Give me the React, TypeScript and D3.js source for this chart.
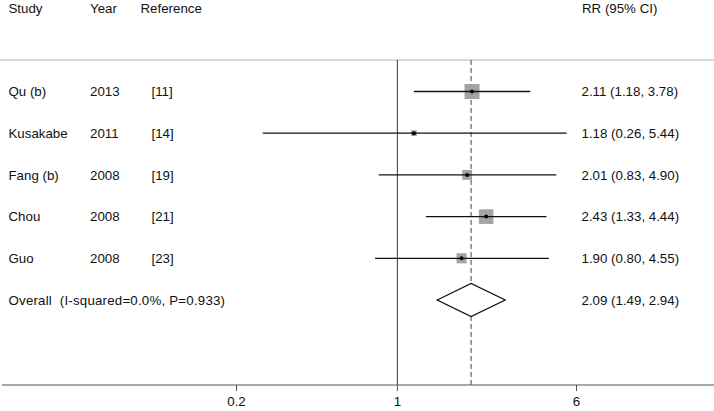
import React from "react";
import { scaleLog, scaleLinear, scaleSqrt, format, max } from "d3";

const width = 714;
const height = 411;

const studies = ["Qu (b)", "Kusakabe", "Fang (b)", "Chou", "Guo"];
const years = ["2013", "2011", "2008", "2008", "2008"];
const refs = ["[11]", "[14]", "[19]", "[21]", "[23]"];
const rr = [2.11, 1.18, 2.01, 2.43, 1.9];
const lower = [1.18, 0.26, 0.83, 1.33, 0.8];
const upper = [3.78, 5.44, 4.9, 4.44, 4.55];
const weights = [33.63, 4.97, 14.56, 31.67, 15.17];

const overallLabel = "Overall  (I-squared=0.0%, P=0.933)";
const overall = { rr: 2.09, lower: 1.49, upper: 2.94 };

const ticks = [0.2, 1, 6];

const font = "'Liberation Sans', Arial, sans-serif";
const fs = 13.3;

const f2 = format(".2f");
const ciText = (r: number, l: number, u: number) => `${f2(r)} (${f2(l)}, ${f2(u)})`;

const App = () => {
  const x = scaleLog().domain([0.2, 6]).range([236.5, 576.5]);
  const y = scaleLinear().domain([0, 5]).range([91.5, 300]);
  const box = scaleSqrt()
    .domain([0, max(weights) as number])
    .range([0, 15]);

  const top = 60;
  const axisY = 385;
  const textDy = 4.8;

  const diamond = [
    [x(overall.lower), y(5)],
    [x(overall.rr), y(5) - 16.5],
    [x(overall.upper), y(5)],
    [x(overall.rr), y(5) + 16.5],
  ]
    .map((p) => p.join(","))
    .join(" ");

  return (
    <div style={{ position: "absolute", left: 0, top: 0 }}>
      <svg width={width} height={height} style={{ display: "block" }} fontFamily={font} fontSize={fs}>
        <rect width={width} height={height} fill="#fff" />
        {/* header */}
        <g fill="#111">
          <text x={8.5} y={12.5}>Study</text>
          <text x={90} y={12.5}>Year</text>
          <text x={140.5} y={12.5}>Reference</text>
          <text x={582} y={12.5}>RR (95% CI)</text>
        </g>
        <line x1={0} x2={width} y1={top} y2={top} stroke="#b0b0b0" strokeWidth={1} />

        {/* reference lines */}
        <line x1={x(1)} x2={x(1)} y1={top} y2={axisY} stroke="#333" strokeWidth={1} />
        <line
          x1={x(overall.rr)}
          x2={x(overall.rr)}
          y1={top}
          y2={axisY}
          stroke="#444"
          strokeWidth={1}
          strokeDasharray="5,3"
        />

        {/* studies */}
        {studies.map((s, i) => {
          const cy = y(i);
          const side = box(weights[i]);
          return (
            <g key={s}>
              <text x={8.5} y={cy + textDy} fill="#111">{s}</text>
              <text x={90} y={cy + textDy} fill="#111">{years[i]}</text>
              <text x={151.5} y={cy + textDy} fill="#111">{refs[i]}</text>
              <rect x={x(rr[i]) - side / 2} y={cy - side / 2} width={side} height={side} fill="#a3a3a3" />
              <line x1={x(lower[i])} x2={x(upper[i])} y1={cy} y2={cy} stroke="#111" strokeWidth={1.3} />
              <circle cx={x(rr[i])} cy={cy} r={2} fill="#000" />
              <text x={581.5} y={cy + textDy} fill="#111">{ciText(rr[i], lower[i], upper[i])}</text>
            </g>
          );
        })}

        {/* overall */}
        <text x={8.5} y={y(5) + textDy} fill="#111" style={{ whiteSpace: "pre" }} letterSpacing={0.2}>
          {overallLabel}
        </text>
        <polygon points={diamond} fill="#fff" stroke="#111" strokeWidth={1.3} />
        <text x={581.5} y={y(5) + textDy} fill="#111">{ciText(overall.rr, overall.lower, overall.upper)}</text>

        {/* axis */}
        <line x1={2} x2={width} y1={axisY} y2={axisY} stroke="#555" strokeWidth={1.2} />
        {ticks.map((t) => (
          <g key={t} transform={`translate(${x(t)},${axisY})`}>
            <line y1={0} y2={6} stroke="#555" strokeWidth={1} />
            <text y={20.5} textAnchor="middle" fill="#111">{t}</text>
          </g>
        ))}
      </svg>
    </div>
  );
};

export default App;
